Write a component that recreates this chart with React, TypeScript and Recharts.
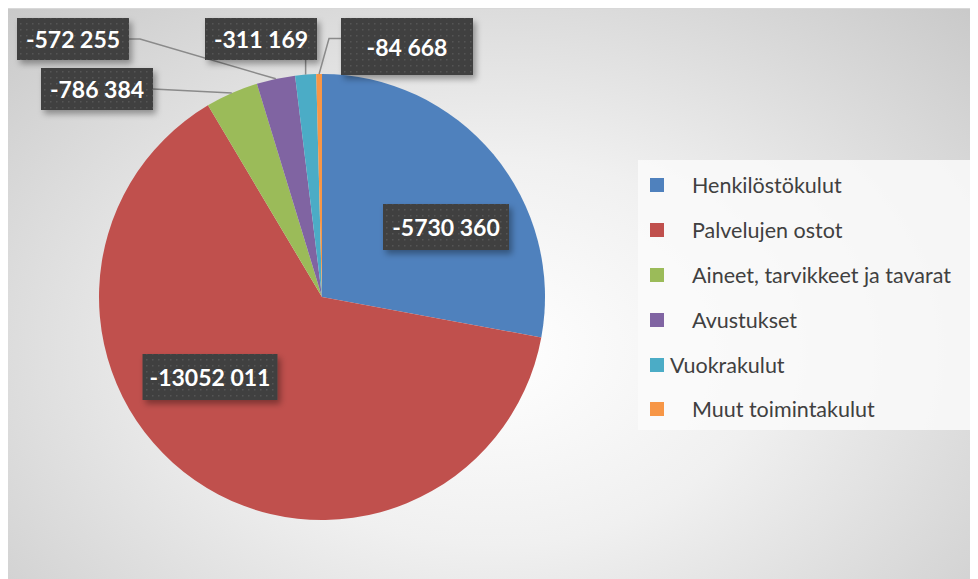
import React from "react";
import { PieChart, Pie, Cell, Legend } from "recharts";

const categories = [
  "Henkilöstökulut",
  "Palvelujen ostot",
  "Aineet, tarvikkeet ja tavarat",
  "Avustukset",
  "Vuokrakulut",
  "Muut toimintakulut",
];
const values = [-5730360, -13052011, -786384, -572255, -311169, -84668];
const valueLabels = ["-5730 360", "-13052 011", "-786 384", "-572 255", "-311 169", "-84 668"];
const colors = ["#4F81BD", "#C0504D", "#9BBB59", "#8064A2", "#4BACC6", "#F79646"];

const data = categories.map((name, i) => ({ name, value: Math.abs(values[i]), label: valueLabels[i] }));

// label box layout: offset of box center from pie center, width, height, leader type
const labelLayout = [
  { dx: 124, dy: -70, w: 126, h: 46, leader: "none" },
  { dx: -112, dy: 80, w: 135, h: 46, leader: "none" },
  { dx: -225, dy: -208, w: 112, h: 42, leader: "right" },
  { dx: -249, dy: -258, w: 112, h: 42, leader: "rightElbow" },
  { dx: -61, dy: -258, w: 112, h: 42, leader: "down" },
  { dx: 85, dy: -250.5, w: 132, h: 57, leader: "leftElbow" },
];

const legendIndent = [28, 28, 28, 28, 6, 28];

const RAD = Math.PI / 180;

const renderLabel = (props: any) => {
  const { cx, cy, midAngle, outerRadius, index } = props;
  const L = labelLayout[index];
  const bx = cx + L.dx;
  const by = cy + L.dy;
  const ax = cx + outerRadius * Math.cos(-midAngle * RAD);
  const ay = cy + outerRadius * Math.sin(-midAngle * RAD);
  const left = bx - L.w / 2;
  const right = bx + L.w / 2;
  const top = by - L.h / 2;
  const bottom = by + L.h / 2;
  let pts: number[][] = [];
  if (L.leader === "right") pts = [[right, by], [ax, ay]];
  else if (L.leader === "rightElbow") pts = [[right, by], [right + 11, by], [ax, ay]];
  else if (L.leader === "down") pts = [[ax, bottom], [ax, ay]];
  else if (L.leader === "leftElbow") pts = [[left, by - 8], [left - 12, by - 8], [ax, ay]];
  return (
    <g key={`lbl-${index}`}>
      {pts.length > 0 && (
        <polyline
          points={pts.map((p) => p.join(",")).join(" ")}
          fill="none"
          stroke="#8a8a8a"
          strokeWidth={1.5}
        />
      )}
      <rect x={left} y={top} width={L.w} height={L.h} fill="url(#dotPattern)" filter="url(#boxShadow)" />
      <text
        x={bx}
        y={by}
        textAnchor="middle"
        dominantBaseline="central"
        fill="#ffffff"
        fontFamily="Lato, 'Open Sans', sans-serif"
        fontWeight={700}
        fontSize={23}
      >
        {data[index].label}
      </text>
    </g>
  );
};

const renderLegend = () => (
  <div
    style={{
      width: 335,
      height: 270,
      background: "rgba(250,250,250,0.85)",
      boxSizing: "border-box",
      paddingTop: 3,
      fontFamily: "Lato, 'Open Sans', sans-serif",
      fontSize: 21.5,
      color: "#404040",
    }}
  >
    {categories.map((c, i) => (
      <div key={c} style={{ display: "flex", alignItems: "center", height: 44.8, paddingLeft: 12 }}>
        <div style={{ width: 14, height: 14, background: colors[i], flex: "none" }} />
        <div style={{ marginLeft: legendIndent[i], whiteSpace: "nowrap" }}>{c}</div>
      </div>
    ))}
  </div>
);

export default function App() {
  return (
    <div
      style={{
        width: 972,
        height: 571,
        marginLeft: -2,
        background: "radial-gradient(ellipse at 50% 60%, #ffffff 0%, #f0f0f0 40%, #c9c9c9 100%)",
        borderTop: "1px solid #d8d8d8",
        boxSizing: "border-box",
      }}
    >
      <PieChart width={972} height={570} margin={{ top: 0, right: 0, bottom: 0, left: 0 }}>
        <defs>
          <pattern id="dotPattern" width="6" height="6" patternUnits="userSpaceOnUse">
            <rect width="6" height="6" fill="#404040" />
            <rect x="2" y="2" width="1.5" height="1.5" fill="#555555" />
          </pattern>
          <filter id="boxShadow" x="-20%" y="-20%" width="140%" height="160%">
            <feDropShadow dx="3" dy="4" stdDeviation="3" floodColor="#000" floodOpacity="0.35" />
          </filter>
        </defs>
        <Pie
          data={data}
          dataKey="value"
          nameKey="name"
          cx={316}
          cy={288}
          outerRadius={223}
          startAngle={90}
          endAngle={-270}
          stroke="none"
          isAnimationActive={false}
          label={renderLabel}
          labelLine={false}
        >
          {data.map((d, i) => (
            <Cell key={d.name} fill={colors[i]} />
          ))}
        </Pie>
        <Legend
          content={renderLegend}
          wrapperStyle={{ position: "absolute", left: 632, top: 151, width: 335, height: 270 }}
        />
      </PieChart>
    </div>
  );
}
